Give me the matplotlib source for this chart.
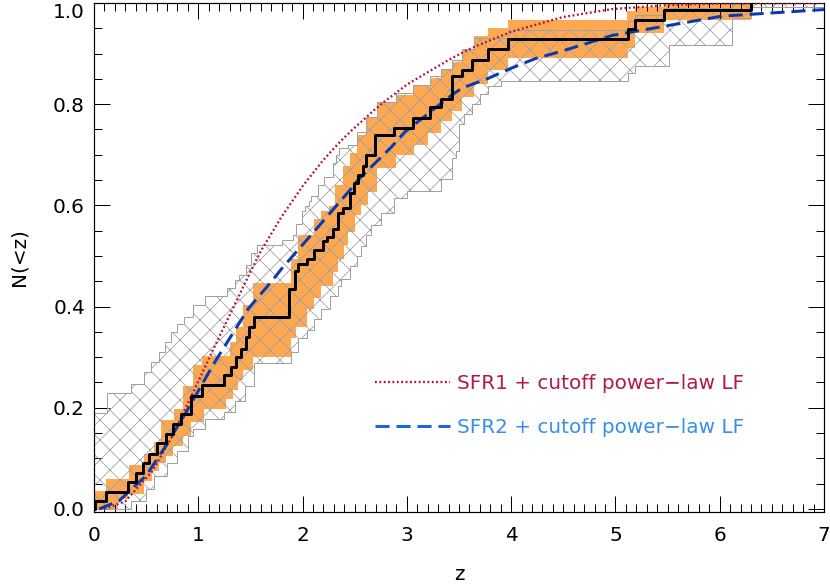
import matplotlib
matplotlib.use('Agg')
import matplotlib.pyplot as plt
from matplotlib.lines import Line2D
from matplotlib.ticker import MultipleLocator

# observed cumulative redshift distribution (step function)
z_obs = [0.0, 0.005, 0.115, 0.33, 0.40, 0.47, 0.53, 0.605, 0.69, 0.76,
         0.835, 0.93, 1.035, 1.25, 1.31, 1.36, 1.41, 1.46, 1.49, 1.53,
         1.87, 1.925, 1.96, 2.04, 2.11, 2.20, 2.23, 2.29, 2.34, 2.39,
         2.45, 2.49, 2.53, 2.58, 2.61, 2.69, 2.88, 3.06, 3.22, 3.33,
         3.43, 3.53, 3.62, 3.78, 3.97, 5.12, 5.19, 5.47, 6.30]
n_obs = [0.0, 0.015, 0.034, 0.053, 0.071, 0.091, 0.109, 0.13, 0.149, 0.168,
         0.188, 0.224, 0.245, 0.264, 0.281, 0.30, 0.317, 0.34, 0.36, 0.38,
         0.435, 0.47, 0.485, 0.495, 0.511, 0.529, 0.537, 0.554, 0.584, 0.594,
         0.624, 0.644, 0.66, 0.677, 0.70, 0.739, 0.752, 0.772, 0.794, 0.81,
         0.855, 0.867, 0.887, 0.91, 0.929, 0.949, 0.967, 0.987, 1.0]

# orange error band
z_orange_hi = [0.0, 0.115, 0.34, 0.48, 0.58, 0.64, 0.77, 0.85, 0.95, 1.04,
               1.30, 1.36, 1.43, 1.52, 1.89, 1.96, 2.11, 2.18, 2.25, 2.31,
               2.39, 2.45, 2.52, 2.61, 2.71, 2.90, 3.06, 3.22, 3.33, 3.43,
               3.53, 3.64, 3.78, 3.97, 5.11, 5.19, 5.47]
n_orange_hi = [0.035, 0.059, 0.086, 0.109, 0.133, 0.175, 0.198, 0.244, 0.284, 0.303,
               0.33, 0.36, 0.403, 0.446, 0.495, 0.541, 0.574, 0.588, 0.598, 0.64,
               0.677, 0.703, 0.74, 0.772, 0.802, 0.818, 0.835, 0.851, 0.868, 0.884,
               0.908, 0.934, 0.95, 0.967, 0.984, 0.993, 1.0]
z_orange_lo = [0.0, 0.23, 0.33, 0.48, 0.56, 0.62, 0.69, 0.76, 0.85, 0.93,
               1.05, 1.27, 1.33, 1.38, 1.43, 1.52, 1.89, 1.94, 2.04, 2.11,
               2.18, 2.29, 2.34, 2.40, 2.44, 2.50, 2.56, 2.63, 2.71, 2.90,
               3.07, 3.20, 3.33, 3.43, 3.53, 3.64, 3.78, 3.97, 5.12, 5.19,
               5.47]
n_orange_lo = [0.0, 0.02, 0.03, 0.056, 0.076, 0.09, 0.105, 0.125, 0.145, 0.172,
               0.198, 0.218, 0.235, 0.255, 0.275, 0.30, 0.337, 0.36, 0.396, 0.416,
               0.44, 0.469, 0.495, 0.521, 0.548, 0.581, 0.60, 0.627, 0.673, 0.70,
               0.72, 0.743, 0.766, 0.786, 0.815, 0.84, 0.868, 0.892, 0.911, 0.94,
               0.967]

# grey hatched band
z_grey_hi = [0.0, 0.12, 0.35, 0.48, 0.55, 0.62, 0.68, 0.74, 0.80, 0.86,
             0.95, 1.06, 1.28, 1.35, 1.39, 1.46, 1.51, 1.56, 1.80, 1.91,
             1.94, 1.99, 2.02, 2.06, 2.08, 2.15, 2.21, 2.29, 2.32, 2.35,
             2.44, 2.52, 2.61, 2.71, 2.90, 3.06, 3.22, 3.33, 3.43, 3.53,
             3.64, 3.97, 5.12, 5.19, 5.47, 6.12]
n_grey_hi = [0.19, 0.23, 0.247, 0.27, 0.29, 0.31, 0.33, 0.35, 0.365, 0.38,
             0.404, 0.42, 0.436, 0.452, 0.462, 0.482, 0.505, 0.521, 0.531, 0.541,
             0.564, 0.588, 0.598, 0.608, 0.618, 0.64, 0.657, 0.683, 0.70, 0.713,
             0.72, 0.745, 0.775, 0.805, 0.822, 0.838, 0.855, 0.87, 0.887, 0.91,
             0.93, 0.947, 0.964, 0.977, 0.99, 1.0]
z_grey_lo = [0.0, 0.35, 0.50, 0.58, 0.70, 0.80, 0.90, 0.95, 1.06, 1.25,
             1.35, 1.45, 1.53, 1.89, 1.96, 2.04, 2.11, 2.18, 2.26, 2.34,
             2.37, 2.45, 2.52, 2.56, 2.61, 2.66, 2.75, 2.88, 3.0, 3.33,
             3.43, 3.47, 3.50, 3.55, 3.62, 3.70, 3.78, 3.90, 5.12, 5.19,
             5.51, 6.12, 6.30]
n_grey_lo = [0.0, 0.015, 0.04, 0.065, 0.09, 0.115, 0.145, 0.158, 0.178, 0.192,
             0.214, 0.244, 0.288, 0.31, 0.337, 0.353, 0.375, 0.396, 0.42, 0.44,
             0.455, 0.48, 0.499, 0.52, 0.541, 0.561, 0.585, 0.614, 0.628, 0.653,
             0.693, 0.707, 0.76, 0.78, 0.80, 0.82, 0.835, 0.846, 0.861, 0.875,
             0.917, 0.97, 0.993]

# model curves
z_sfr1 = [0.1, 0.3, 0.56, 0.74, 0.88, 1.0, 1.2, 1.48, 1.6, 1.8, 2.0, 2.2,
          2.37, 2.47, 2.69, 2.79, 3.01, 3.43, 3.62, 4.0, 4.49, 4.97, 5.5, 6.0, 7.0]
n_sfr1 = [0.0, 0.015, 0.075, 0.14, 0.20, 0.252, 0.34, 0.46, 0.51, 0.578, 0.638, 0.69,
          0.728, 0.748, 0.789, 0.806, 0.84, 0.891, 0.911, 0.943, 0.972, 0.988, 0.996,
          0.999, 1.0]
z_sfr2 = [0.05, 0.24, 0.5, 0.69, 0.88, 1.16, 1.48, 1.7, 1.8, 2.08, 2.47, 2.53,
          2.85, 2.98, 3.43, 3.53, 3.78, 3.91, 4.0, 4.23, 4.49, 4.97, 6.02, 7.0]
n_sfr2 = [0.0, 0.016, 0.066, 0.125, 0.19, 0.291, 0.396, 0.449, 0.475, 0.541, 0.634, 0.65,
          0.715, 0.745, 0.818, 0.832, 0.851, 0.863, 0.871, 0.89, 0.905, 0.936, 0.974, 0.987]

labels = ['SFR1 + cutoff power\u2212law LF', 'SFR2 + cutoff power\u2212law LF']

DPI = 60
P = 72 / DPI  # points per pixel


def steps(z, n, z_end):
    xs, ys = [], []
    for i in range(len(z)):
        z1 = z[i + 1] if i + 1 < len(z) else z_end
        xs += [z[i], z1]
        ys += [n[i], n[i]]
    return xs, ys


def band(ax, zu, nu, zl, nl, z_end, **kw):
    xu, yu = steps(zu, nu, z_end)
    xl, yl = steps(zl, nl, z_end)
    ax.fill(xu + xl[::-1], yu + yl[::-1], **kw)


plt.rcParams['font.family'] = ['DejaVu Sans']
plt.rcParams['hatch.linewidth'] = 0.8 * P

fig = plt.figure(figsize=(830 / DPI, 584 / DPI), dpi=DPI)
ax = fig.add_axes([94 / 830, 1 - 512 / 584, 730 / 830, 509 / 584])

band(ax, z_orange_hi, n_orange_hi, z_orange_lo, n_orange_lo, 6.30,
     facecolor='#ffa852', edgecolor='none', zorder=1)
band(ax, z_grey_hi, n_grey_hi, z_grey_lo, n_grey_lo, 7.0,
     facecolor='none', edgecolor='#a0a0a0', hatch='x', linewidth=1 * P, zorder=2)

ax.plot(z_sfr1, n_sfr1, ls=(0, (0.8, 1.1)), color='#b0103c', lw=2.3 * P, zorder=4)
ax.plot(z_sfr2, n_sfr2, ls=(0, (4.7, 2.3)), color='#0a3aad', lw=3 * P, zorder=4)
ax.step(z_obs, n_obs, where='post', color='k', lw=3 * P, zorder=5)

handles = [Line2D([], [], ls=(0, (0.8, 1.1)), color='#b0103c', lw=2.3 * P),
           Line2D([], [], ls=(0, (4.7, 2.3)), color='#1a66e0', lw=3 * P)]
leg = ax.legend(handles, labels, loc='center left', bbox_to_anchor=(0.385, 0.21),
                frameon=False, fontsize=20 * P, handlelength=3.75, handletextpad=0.35,
                labelspacing=1.25, borderpad=0, borderaxespad=0)
for t, c in zip(leg.get_texts(), ['#b01a4a', '#3a8ee6']):
    t.set_color(c)

ax.set_xlim(0, 7)
ax.set_ylim(-0.006, 1.0)
ax.xaxis.set_major_locator(MultipleLocator(1))
ax.xaxis.set_minor_locator(MultipleLocator(0.1))
ax.yaxis.set_minor_locator(MultipleLocator(0.05))
ax.set_yticks([0, 0.2, 0.4, 0.6, 0.8, 1.0])
ax.set_yticklabels(['0.0', '0.2', '0.4', '0.6', '0.8', '1.0'])
ax.tick_params(which='both', direction='in', top=True, right=True, width=1 * P)
ax.tick_params(which='major', length=16 * P, labelsize=20 * P)
ax.tick_params(which='minor', length=8 * P)
ax.tick_params(axis='x', pad=14 * P)
ax.tick_params(axis='y', pad=9 * P)
ax.get_yticklabels()[-1].set_verticalalignment('top')
for s in ax.spines.values():
    s.set_linewidth(1.2 * P)

ax.set_xlabel('z', fontsize=20 * P)
ax.set_ylabel('N(<z)', fontsize=20 * P)
ax.xaxis.set_label_coords(0.5, -0.105)
ax.yaxis.set_label_coords(-0.09, 0.5)

fig.savefig('out.png', dpi=DPI)
